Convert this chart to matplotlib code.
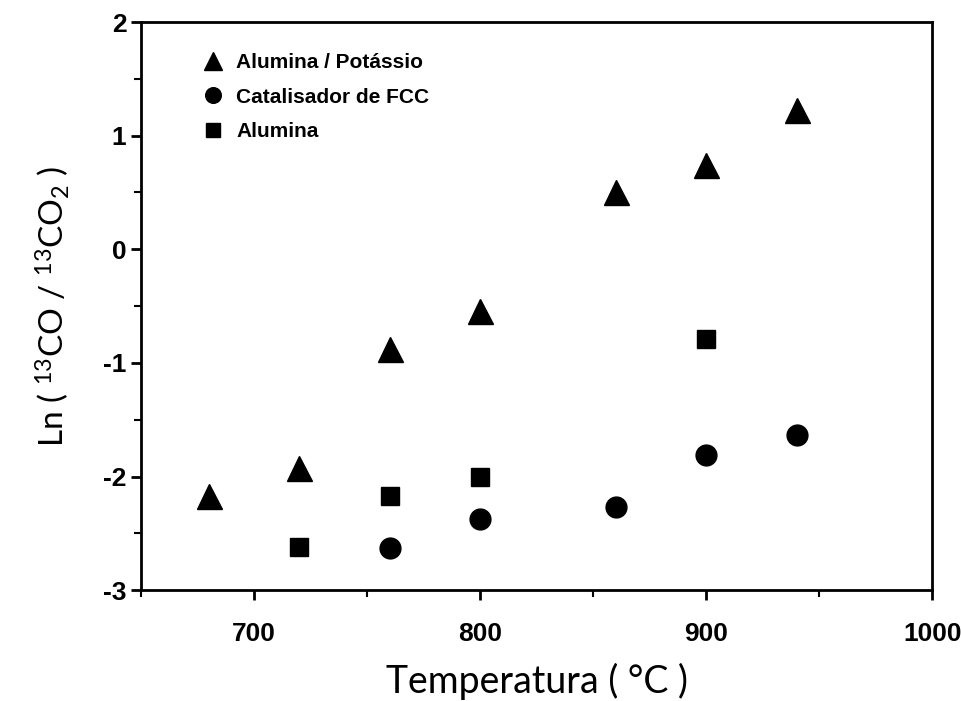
import matplotlib
matplotlib.use("Agg")
import matplotlib.pyplot as plt
from matplotlib.ticker import MultipleLocator
from matplotlib import font_manager

plt.rcParams['axes.unicode_minus'] = False
plt.rcParams['mathtext.fontset'] = 'custom'
plt.rcParams['mathtext.rm'] = 'Lato'
plt.rcParams['mathtext.it'] = 'Lato:italic'

names = sorted({f.name for f in font_manager.fontManager.ttflist})
narrow = 'Liberation Sans Narrow' if 'Liberation Sans Narrow' in names else 'Liberation Sans'

# Data
temp_k = [680, 720, 760, 800, 860, 900, 940]
ln_k = [-2.17, -1.92, -0.88, -0.54, 0.50, 0.74, 1.23]
temp_fcc = [760, 800, 860, 900, 940]
ln_fcc = [-2.63, -2.37, -2.27, -1.81, -1.63]
temp_al = [720, 760, 800, 900]
ln_al = [-2.62, -2.17, -2.00, -0.79]

xticks = [700, 800, 900, 1000]
yticks = [-3, -2, -1, 0, 1, 2]

fig = plt.figure(figsize=(9.62, 7.01), dpi=100)
ax = fig.add_axes([0.1466, 0.158, 0.8224, 0.8106])

ax.plot(temp_k, ln_k, linestyle='none', marker='^', color='black', markersize=18, label='Alumina / Potássio')
ax.plot(temp_fcc, ln_fcc, linestyle='none', marker='o', color='black', markersize=15, label='Catalisador de FCC')
ax.plot(temp_al, ln_al, linestyle='none', marker='s', color='black', markersize=13, label='Alumina')

ax.set_xlim(650, 1000)
ax.set_ylim(-3, 2)
ax.set_xticks(xticks)
ax.set_yticks(yticks)
ax.xaxis.set_minor_locator(MultipleLocator(50))
ax.yaxis.set_minor_locator(MultipleLocator(0.5))
ax.tick_params(which='major', direction='out', length=7, width=2)
ax.tick_params(which='minor', direction='out', length=5, width=1.5)
ax.tick_params(axis='x', pad=16)
for lab in ax.get_xticklabels() + ax.get_yticklabels():
    lab.set_fontweight('bold')
    lab.set_fontfamily(narrow)
    lab.set_fontsize(19)
for sp in ax.spines.values():
    sp.set_linewidth(2)

ax.set_xlabel('Temperatura ( °C )', fontsize=27, labelpad=12, family='Lato')
ax.set_ylabel('Ln ( $^{13}$CO / $^{13}$CO$_{2}$ )', fontsize=24, labelpad=22, family='Lato')

leg = ax.legend(loc='upper left', bbox_to_anchor=(0.065, 0.96), frameon=False, handletextpad=0.5,
                borderaxespad=0.0, labelspacing=0.75, markerscale=0.75, handlelength=1.2,
                prop={'weight': 'bold', 'family': narrow, 'size': 15})

fig.savefig('out.png', dpi=100)
